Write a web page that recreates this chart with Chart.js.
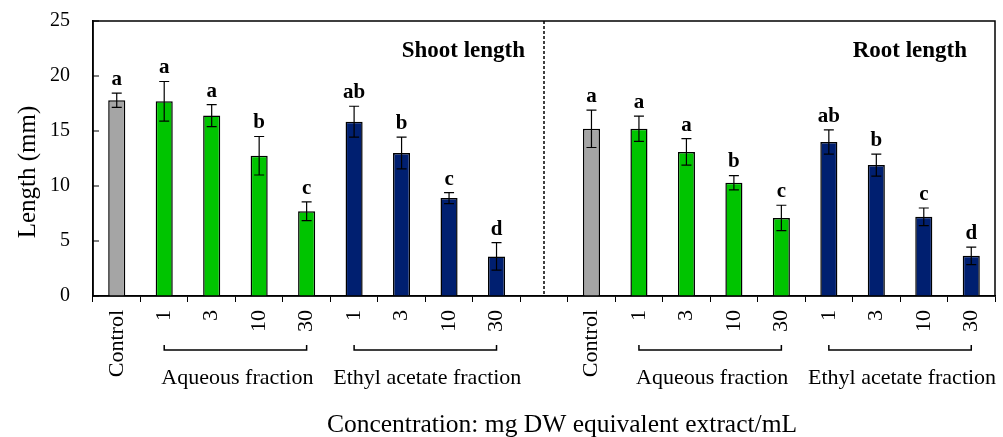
<!DOCTYPE html>
<html>
<head>
<meta charset="utf-8">
<script src="https://cdn.jsdelivr.net/npm/chart.js@4.4.1/dist/chart.umd.min.js"></script>
<style>
  html, body { margin: 0; padding: 0; background: #fff; }
  #wrap { width: 1003px; height: 437px; }
</style>
</head>
<body>
<div id="wrap"><canvas id="chart" width="1003" height="437"></canvas></div>
<script>
// Tick labels and groups of one panel
const panelLabels = ["Control", "1", "3", "10", "30", "1", "3", "10", "30"];
const panelGroups = ["control", "aqueous", "aqueous", "aqueous", "aqueous", "ethyl", "ethyl", "ethyl", "ethyl"];

// Shoot length (mm) and standard errors
const shootMeans = [17.8, 17.7, 16.4, 12.75, 7.7, 15.85, 13.0, 8.9, 3.6];
const shootErrors = [0.65, 1.8, 1.0, 1.75, 0.85, 1.4, 1.45, 0.5, 1.25];
const shootLetters = ["a", "a", "a", "b", "c", "ab", "b", "c", "d"];

// Root length (mm) and standard errors
const rootMeans = [15.2, 15.2, 13.1, 10.3, 7.1, 14.0, 11.9, 7.2, 3.65];
const rootErrors = [1.7, 1.15, 1.2, 0.65, 1.15, 1.1, 1.0, 0.8, 0.8];
const rootLetters = ["a", "a", "a", "b", "c", "ab", "b", "c", "d"];

const yTicks = [0, 5, 10, 15, 20, 25];

const FONT = "'Liberation Serif', 'Times New Roman', serif";
const groupColor = { control: "#a5a5a5", aqueous: "#00c400", ethyl: "#001f70" };

// one empty category separates the two panels
const labels = [...panelLabels, "", ...panelLabels];
const means = [...shootMeans, null, ...rootMeans];
const errors = [...shootErrors, null, ...rootErrors];
const letters = [...shootLetters, null, ...rootLetters];
const groups = [...panelGroups, null, ...panelGroups];

const extras = {
  id: "extras",
  afterDatasetsDraw(chart) {
    const { ctx, chartArea: a, scales: { x, y } } = chart;
    ctx.save();
    ctx.strokeStyle = "#000";
    ctx.fillStyle = "#000";

    // error bars and significance letters
    ctx.lineWidth = 1.2;
    means.forEach((m, i) => {
      if (m === null) return;
      const cx = x.getPixelForValue(i);
      const top = y.getPixelForValue(m + errors[i]);
      const bot = y.getPixelForValue(m - errors[i]);
      ctx.beginPath();
      ctx.moveTo(cx, top); ctx.lineTo(cx, bot);
      ctx.moveTo(cx - 5, top); ctx.lineTo(cx + 5, top);
      ctx.moveTo(cx - 5, bot); ctx.lineTo(cx + 5, bot);
      ctx.stroke();
      ctx.font = "bold 21px " + FONT;
      ctx.textAlign = "center";
      ctx.textBaseline = "bottom";
      ctx.fillText(letters[i], cx, top - 3);
    });

    // dashed separator between panels
    const sep = x.getPixelForValue(9);
    ctx.lineWidth = 1.5;
    ctx.setLineDash([3, 2]);
    ctx.beginPath();
    ctx.moveTo(sep, a.top); ctx.lineTo(sep, a.bottom);
    ctx.stroke();
    ctx.setLineDash([]);

    // frame
    ctx.lineWidth = 1.5;
    ctx.strokeRect(a.left, a.top, a.right - a.left, a.bottom - a.top);

    // inward y ticks
    ctx.lineWidth = 1;
    yTicks.forEach(v => {
      const py = y.getPixelForValue(v);
      ctx.beginPath();
      ctx.moveTo(a.left, py); ctx.lineTo(a.left + 6, py);
      ctx.stroke();
    });

    // panel titles
    ctx.font = "bold 23px " + FONT;
    ctx.textBaseline = "middle";
    ctx.textAlign = "right";
    ctx.fillText("Shoot length", x.getPixelForValue(8.6), 51);
    ctx.fillText("Root length", x.getPixelForValue(18.5) - 28, 51);

    // brackets and group names
    [[1, 4, "Aqueous fraction"], [5, 8, "Ethyl acetate fraction"],
     [11, 14, "Aqueous fraction"], [15, 18, "Ethyl acetate fraction"]].forEach(([s, e, name]) => {
      const x0 = x.getPixelForValue(s), x1 = x.getPixelForValue(e);
      ctx.lineWidth = 1.5;
      ctx.beginPath();
      ctx.moveTo(x0, 345); ctx.lineTo(x0, 350); ctx.lineTo(x1, 350); ctx.lineTo(x1, 345);
      ctx.stroke();
      ctx.font = "22px " + FONT;
      ctx.textAlign = "center";
      ctx.fillText(name, (x0 + x1) / 2 + 2, 378);
    });

    // axis titles
    ctx.font = "25.5px " + FONT;
    ctx.textAlign = "center";
    ctx.fillText("Concentration: mg DW equivalent extract/mL", 562, 425);
    ctx.font = "25px " + FONT;
    ctx.translate(28, 172);
    ctx.rotate(-Math.PI / 2);
    ctx.fillText("Length (mm)", 0, 0);
    ctx.restore();
  }
};

new Chart(document.getElementById("chart"), {
  type: "bar",
  data: {
    labels: labels,
    datasets: [{
      data: means,
      backgroundColor: groups.map(g => g ? groupColor[g] : "transparent"),
      borderColor: "#000",
      borderWidth: 1.5,
      categoryPercentage: 1,
      barPercentage: 0.36
    }]
  },
  options: {
    responsive: false,
    animation: false,
    layout: { padding: { left: 0, right: 8, top: 21, bottom: 0 } },
    plugins: { legend: { display: false }, tooltip: { enabled: false } },
    scales: {
      x: {
        afterFit: s => { s.height = 141; s.paddingLeft = 0; s.paddingRight = 0; },
        grid: { display: true, drawOnChartArea: false, offset: true, tickLength: 6, color: "#000", lineWidth: 1 },
        border: { display: true, color: "#000", width: 1.5 },
        ticks: {
          autoSkip: false, maxRotation: 90, minRotation: 90, padding: 8,
          color: "#000", font: { family: FONT, size: 22 }
        }
      },
      y: {
        min: 0, max: 25,
        afterFit: s => { s.width = 93; s.paddingTop = 0; s.paddingBottom = 0; },
        afterBuildTicks: s => { s.ticks = yTicks.map(v => ({ value: v })); },
        grid: { display: false, drawTicks: false },
        border: { display: true, color: "#000", width: 1.5 },
        ticks: { padding: 23, color: "#000", font: { family: FONT, size: 20 } }
      }
    }
  },
  plugins: [extras]
});
</script>
</body>
</html>
